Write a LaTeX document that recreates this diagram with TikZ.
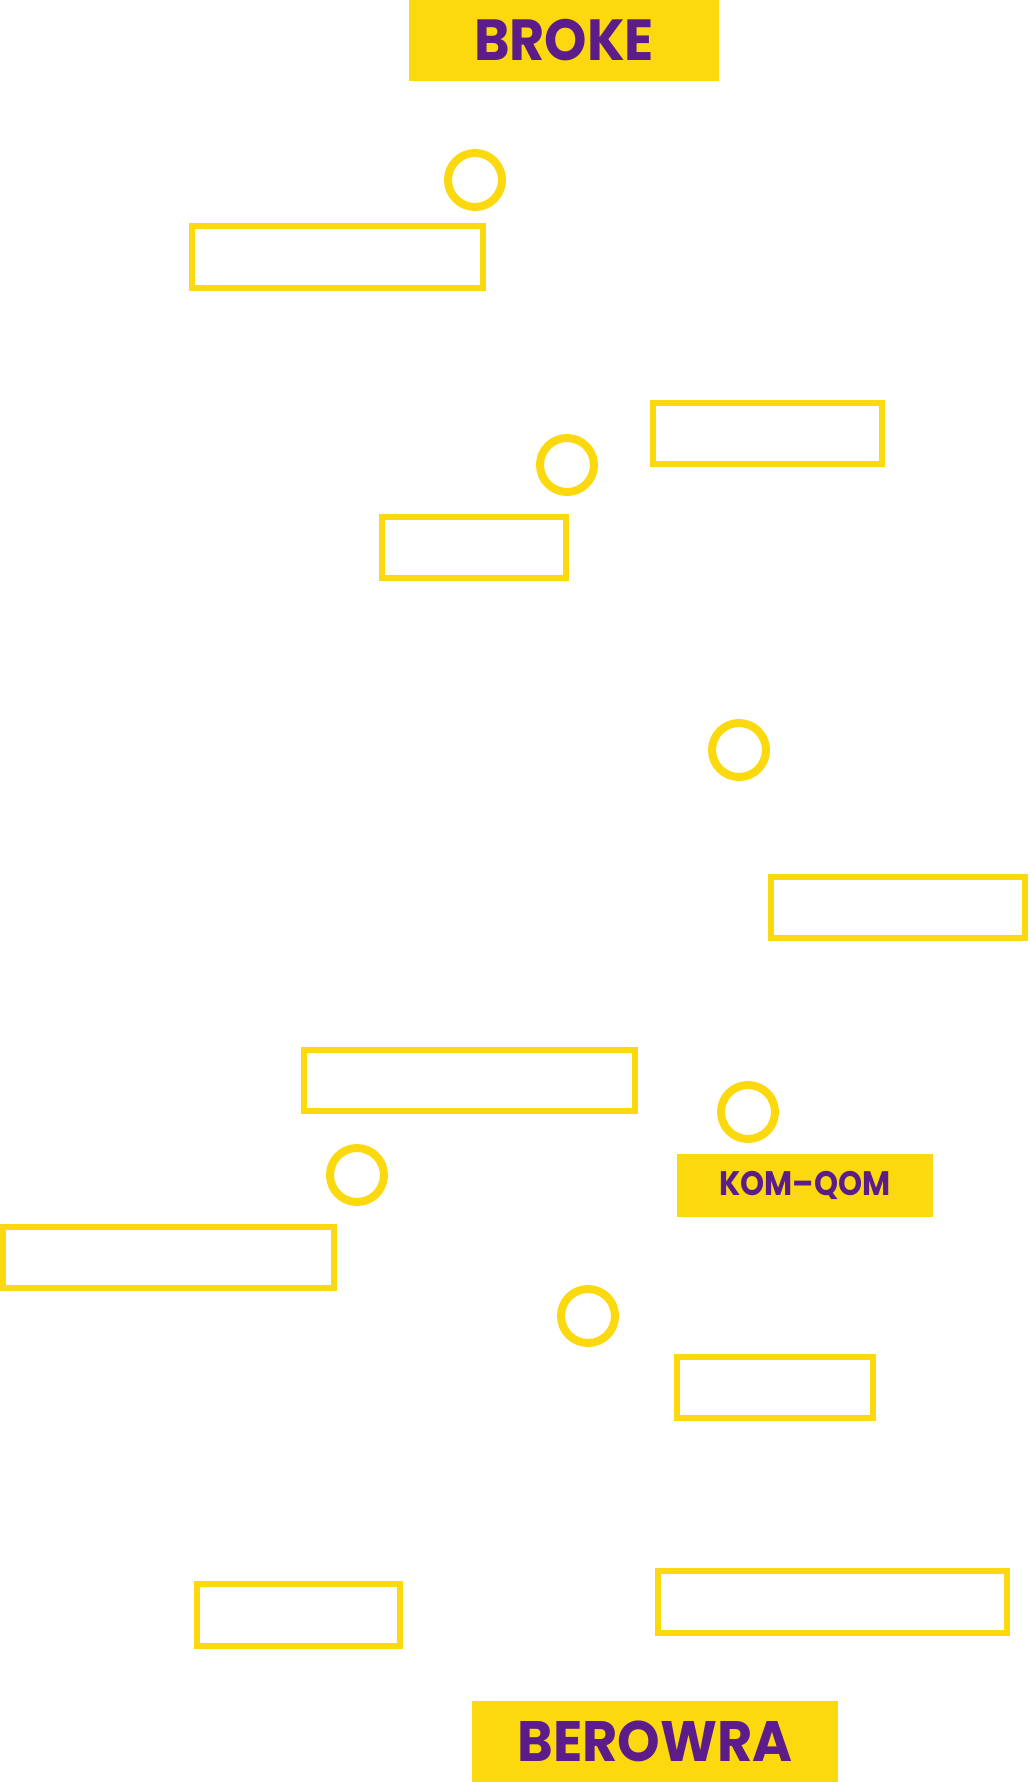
\documentclass[tikz,border=0pt]{standalone}
\usepackage{fontspec}
\setmainfont{Poppins}[UprightFont=* Bold]
\newfontfamily\brokefont{Poppins}[UprightFont=* Bold,FakeStretch=0.93]
\newfontfamily\berfont{Poppins}[UprightFont=* Bold,FakeStretch=0.95]
\newfontfamily\komfont{Poppins}[UprightFont=* Bold,FakeStretch=0.90]
\definecolor{ylw}{HTML}{FBD90E}
\definecolor{prp}{HTML}{5C1D8A}
\begin{document}
\begin{tikzpicture}[x=1pt,y=-1pt,
  box/.style={draw=ylw,line width=6pt,fill=white,inner sep=0pt,minimum height=61pt},
  ring/.style={circle,draw=ylw,line width=8pt,inner sep=0pt,minimum size=54pt},
  tag/.style={fill=ylw,text=prp,inner sep=0pt}]
\useasboundingbox[fill=white] (0,0) rectangle (1029,1782);
% filled labels
\node[tag,minimum width=310pt,minimum height=81pt,font=\brokefont\fontsize{58}{60}\selectfont] (broke) at (564,40.5) {BROKE};
\node[tag,minimum width=256pt,minimum height=63pt,font=\komfont\fontsize{34}{36}\selectfont] (komqom) at (805,1185.5) {KOM–QOM};
\node[tag,minimum width=366pt,minimum height=81pt,font=\berfont\fontsize{57}{60}\selectfont] (berowra) at (655,1741.5) {BEROWRA};
% rings
\node[ring] (c1) at (475,180) {};
\node[ring] (c2) at (567,465) {};
\node[ring] (c3) at (739,750) {};
\node[ring] (c4) at (748,1112) {};
\node[ring] (c5) at (357,1175) {};
\node[ring] (c6) at (588,1316) {};
% boxes
\node[box,minimum width=291pt,minimum height=62pt] (b1) at (337.5,257) {};
\node[box,minimum width=229pt] (b2) at (767.5,433.5) {};
\node[box,minimum width=184pt] (b3) at (474,547.5) {};
\node[box,minimum width=254pt] (b4) at (898,907.5) {};
\node[box,minimum width=331pt] (b5) at (469.5,1080.5) {};
\node[box,minimum width=331pt] (b6) at (168.5,1257.5) {};
\node[box,minimum width=196pt] (b7) at (775,1387.5) {};
\node[box,minimum width=203pt,minimum height=62pt] (b8) at (298.5,1615) {};
\node[box,minimum width=349pt,minimum height=62pt] (b9) at (832.5,1602) {};
\end{tikzpicture}
\end{document}
